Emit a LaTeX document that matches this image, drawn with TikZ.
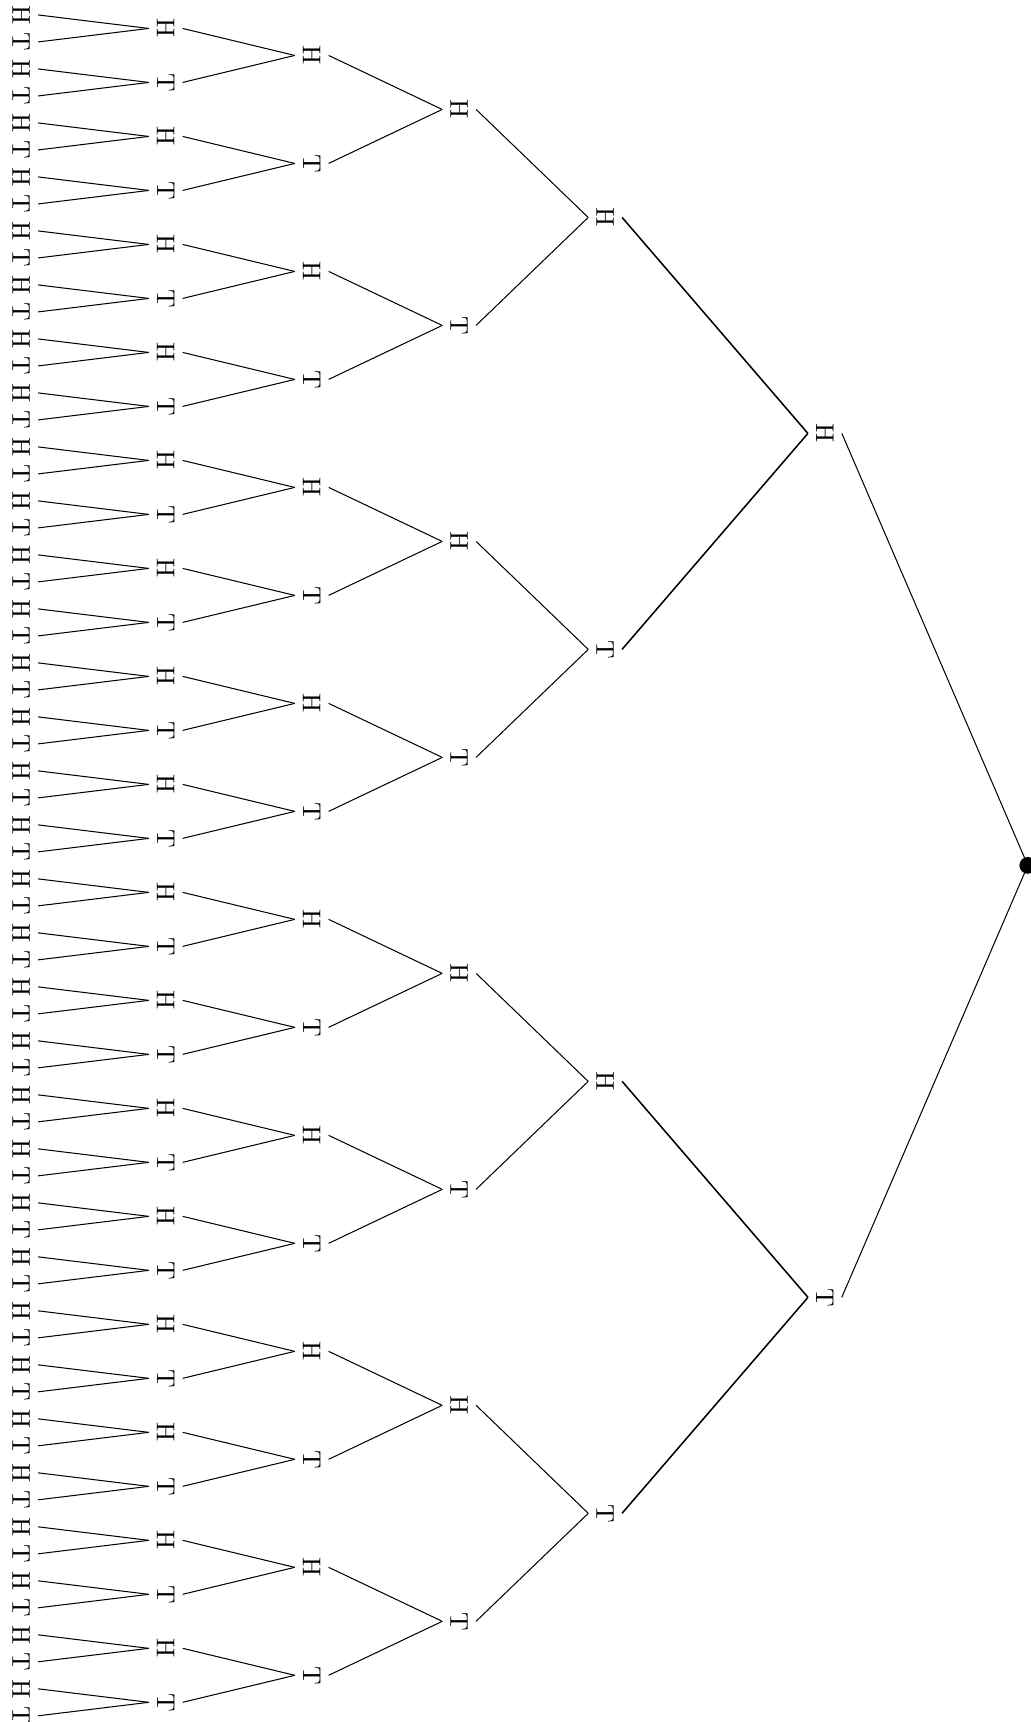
\documentclass[tikz,border=0pt]{standalone}
\usepackage{tikz}

\begin{document}
\begin{tikzpicture}[
  coin/.style={rotate=-90,inner sep=3pt},
  rootdot/.style={circle,fill,inner sep=0pt,minimum size=0.23cm}]
\useasboundingbox (0,0) rectangle (14.12,-23.59);
% root of the coin tree
\node[rootdot] (n-0-0) at (14.08,-11.855) {};
% one column per toss, H on top, T below
\foreach \k/\xx/\lw/\pa in {1/11.30/thin/center,2/8.29/semithick/south,3/6.29/thin/south,
                          4/4.27/thin/south,5/2.27/thin/south,6/0.29/thin/south}{
  \pgfmathtruncatemacro\nn{2^\k-1}
  \pgfmathtruncatemacro\pk{\k-1}
  \foreach \i in {0,...,\nn}{
    \pgfmathsetmacro\yy{-0.02-(\i+0.5)*23.67/2^\k}
    \pgfmathtruncatemacro\pp{floor(\i/2)}
    \node[coin] (n-\k-\i) at (\xx,\yy) {\ifodd\i\relax T\else H\fi};
    \draw[\lw] (n-\pk-\pp.\pa) -- (n-\k-\i.north);
  }
}
\end{tikzpicture}
\end{document}
